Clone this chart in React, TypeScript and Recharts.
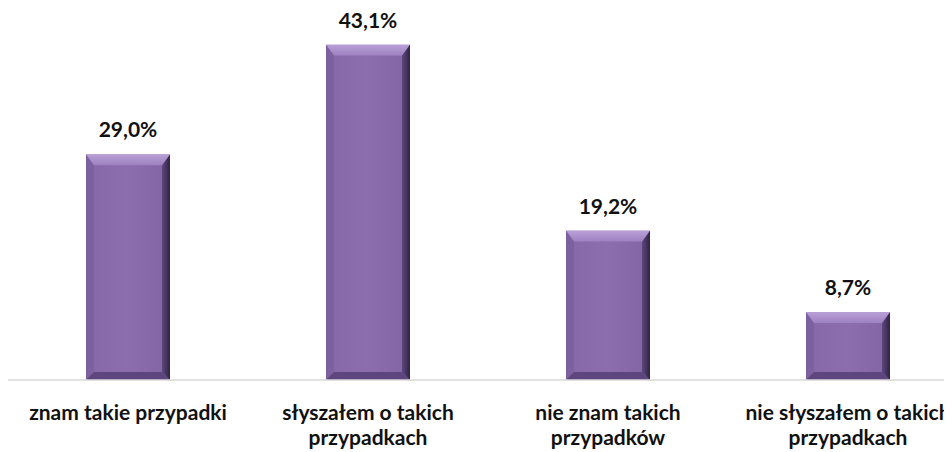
import React from "react";
import { BarChart, Bar, XAxis, YAxis, LabelList } from "recharts";

const categories = [
  "znam takie przypadki",
  "słyszałem o takich przypadkach",
  "nie znam takich przypadków",
  "nie słyszałem o takich przypadkach",
];
const tickLines = [
  ["znam takie przypadki"],
  ["słyszałem o takich", "przypadkach"],
  ["nie znam takich", "przypadków"],
  ["nie słyszałem o takich", "przypadkach"],
];
const shares = [29.0, 43.1, 19.2, 8.7];

const data = categories.map((name, i) => ({ name, value: shares[i], lines: tickLines[i] }));

const FONT = "Lato, 'Open Sans', sans-serif";

function BevelBar(props: any) {
  const { x, y, width, height } = props;
  if (!height || height <= 0) return null;
  const t = 11; // top bevel
  const s = 8; // side bevel
  const b = 8; // bottom bevel
  const x2 = x + width;
  const y2 = y + height;
  return (
    <g>
      <rect x={x} y={y} width={width} height={height} fill="#8a6bab" />
      {/* top */}
      <polygon points={`${x},${y} ${x2},${y} ${x2 - s},${y + t} ${x + s},${y + t}`} fill="url(#bevTop)" />
      {/* left */}
      <polygon points={`${x},${y} ${x + s},${y + t} ${x + s},${y2 - b} ${x},${y2}`} fill="#7d609f" />
      {/* right */}
      <polygon points={`${x2},${y} ${x2},${y2} ${x2 - s},${y2 - b} ${x2 - s},${y + t}`} fill="url(#bevRight)" />
      {/* bottom */}
      <polygon points={`${x},${y2} ${x + s},${y2 - b} ${x2 - s},${y2 - b} ${x2},${y2}`} fill="#5c467d" />
      <rect x={x + s} y={y + t} width={width - 2 * s} height={Math.max(0, height - t - b)} fill="url(#bevFace)" />
    </g>
  );
}

function Tick(props: any) {
  const { x, y, payload, index } = props;
  const lines = tickLines[index] ?? [payload.value];
  return (
    <g>
      {lines.map((l: string, i: number) => (
        <text
          key={i}
          x={x}
          y={y + 32 + i * 25}
          textAnchor="middle"
          fontFamily={FONT}
          fontWeight={700}
          fontSize={21}
          fill="#111"
        >
          {l}
        </text>
      ))}
    </g>
  );
}

function ValueLabel(props: any) {
  const { x, y, width, value } = props;
  return (
    <text
      x={x + width / 2}
      y={y - 17}
      textAnchor="middle"
      fontFamily={FONT}
      fontWeight={700}
      fontSize={21}
      fill="#111"
    >
      {Number(value).toFixed(1).replace(".", ",") + "%"}
    </text>
  );
}

export default function App() {
  return (
    <div style={{ width: 944, height: 444, overflow: "hidden" }}>
      <BarChart width={960} height={444} data={data} margin={{ top: 22, right: 0, bottom: 0, left: 0 }}>
        <defs>
          <linearGradient id="bevTop" x1="0" y1="0" x2="0" y2="1">
            <stop offset="0%" stopColor="#b9a0d8" />
            <stop offset="100%" stopColor="#9d80c0" />
          </linearGradient>
          <linearGradient id="bevRight" x1="0" y1="0" x2="1" y2="0">
            <stop offset="0%" stopColor="#5e4880" />
            <stop offset="100%" stopColor="#2f2342" />
          </linearGradient>
          <linearGradient id="bevFace" x1="0" y1="0" x2="1" y2="0">
            <stop offset="0%" stopColor="#8768a8" />
            <stop offset="50%" stopColor="#8c6dae" />
            <stop offset="100%" stopColor="#8466a6" />
          </linearGradient>
        </defs>
        <XAxis
          dataKey="name"
          height={72}
          tickLine={false}
          axisLine={{ stroke: "#d9d9d9", strokeWidth: 1.5 }}
          tick={<Tick />}
          interval={0}
        />
        <YAxis hide domain={[0, 45]} />
        <Bar dataKey="value" barSize={84} shape={<BevelBar />} isAnimationActive={false}>
          <LabelList dataKey="value" content={<ValueLabel />} />
        </Bar>
      </BarChart>
    </div>
  );
}
